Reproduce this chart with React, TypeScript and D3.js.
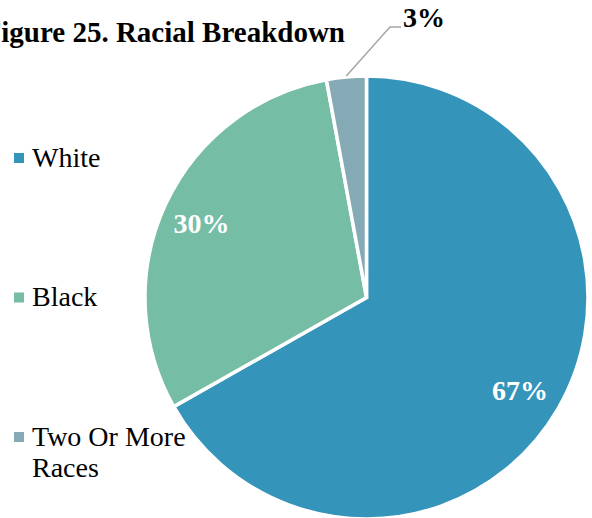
import React from "react";
import * as d3 from "d3";

const categories = ["White", "Black", "Two Or More Races"];
const values = [66.8, 30.3, 2.9];
const labels = ["67%", "30%", "3%"];
const colors = ["#3594BA", "#76BDA6", "#86AAB5"];

const W = 592;
const H = 518;
const cx = 366.5;
const cy = 297.5;
const R = 221.5;
const font = "'Liberation Serif', 'Times New Roman', serif";

export default function App() {
  const pie = d3.pie<number>().sort(null).value((d) => d);
  const arcs = pie(values);
  const arcGen = d3.arc<d3.PieArcDatum<number>>().innerRadius(0).outerRadius(R);
  const labelArc = d3.arc<d3.PieArcDatum<number>>().innerRadius(180).outerRadius(180);
  const outerArc = d3.arc<d3.PieArcDatum<number>>().innerRadius(R + 1).outerRadius(R + 1);

  const legendY = [158, 297.5, 437];

  return (
    <svg width={W} height={H} style={{ position: "absolute", left: 0, top: 0 }} fontFamily={font}>
      <rect width={W} height={H} fill="#fff" />
      <text x={345} y={42} textAnchor="end" fontSize={29} fontWeight="bold" fill="#000">
        Figure 25. Racial Breakdown
      </text>
      <g transform={`translate(${cx},${cy})`}>
        {arcs.map((a, i) => (
          <path key={i} d={arcGen(a) || ""} fill={colors[i]} stroke="#fff" strokeWidth={3.5} strokeLinejoin="miter" />
        ))}
        {arcs.map((a, i) => {
          if (i === 2) return null;
          const [x, y] = labelArc.centroid(a);
          return (
            <text key={i} x={x - 2} y={y + 12} textAnchor="middle" fontSize={28} fontWeight="bold" fill="#fff">
              {labels[i]}
            </text>
          );
        })}
        {(() => {
          const a = arcs[2];
          const [x0, y0] = outerArc.centroid(a);
          const x1 = 390 - cx;
          const y1 = 27 - cy;
          const x2 = 401 - cx;
          return (
            <g>
              <polyline points={`${x0},${y0} ${x1},${y1} ${x2},${y1}`} fill="none" stroke="#A6A6A6" strokeWidth={1.5} />
              <text x={424 - cx} y={27 - cy} textAnchor="middle" fontSize={28} fontWeight="bold" fill="#000">
                {labels[2]}
              </text>
            </g>
          );
        })()}
      </g>
      {categories.map((c, i) => {
        const y = legendY[i];
        const lines = i === 2 ? ["Two Or More", "Races"] : [c];
        return (
          <g key={c}>
            <rect x={14} y={y - 5} width={10} height={10} fill={colors[i]} />
            {lines.map((t, j) => (
              <text key={j} x={32} y={y + 8.5 + j * 31.5} fontSize={28} fill="#000">
                {t}
              </text>
            ))}
          </g>
        );
      })}
    </svg>
  );
}
